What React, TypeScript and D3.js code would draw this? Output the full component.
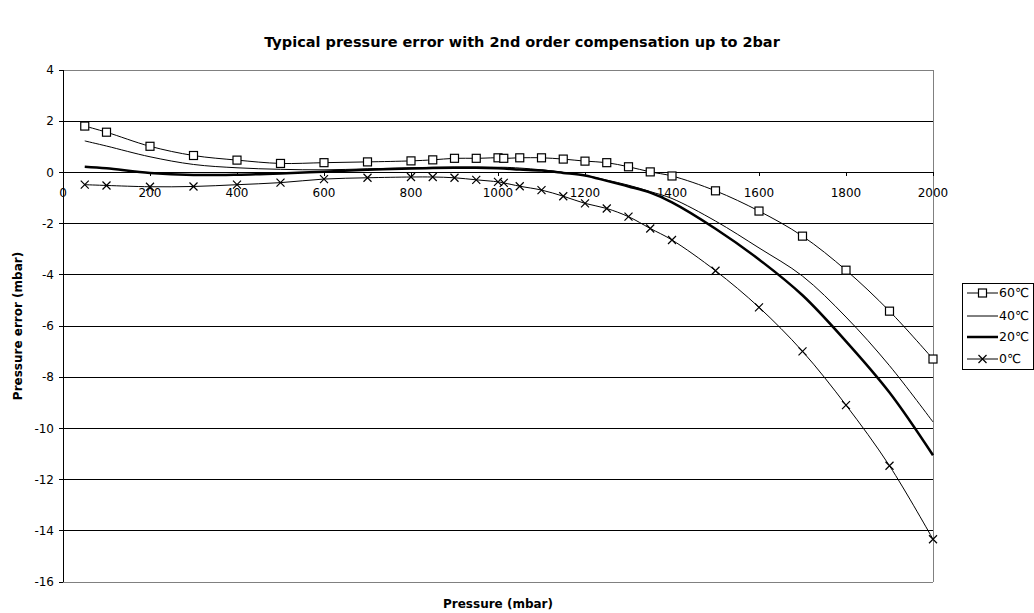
import React from 'react';
import * as d3 from 'd3';

// Pressure points (mbar) and typical error (mbar) per temperature
const pressure = [50, 100, 200, 300, 400, 500, 600, 700, 800, 850, 900, 950, 1000, 1013.25, 1050, 1100, 1150, 1200, 1250, 1300, 1350, 1400, 1500, 1600, 1700, 1800, 1900, 2000];
const err60 = [1.81, 1.57, 1.02, 0.66, 0.48, 0.35, 0.38, 0.41, 0.45, 0.49, 0.55, 0.55, 0.57, 0.55, 0.57, 0.57, 0.52, 0.44, 0.38, 0.22, 0.02, -0.14, -0.72, -1.51, -2.49, -3.82, -5.42, -7.29];
const err40 = [1.23, 1.03, 0.61, 0.31, 0.18, 0.12, 0.1, 0.14, 0.18, 0.2, 0.21, 0.21, 0.2, 0.2, 0.17, 0.1, 0.0, -0.12, -0.3, -0.5, -0.75, -1.02, -1.9, -2.95, -4.05, -5.65, -7.55, -9.75];
const err20 = [0.22, 0.16, -0.02, -0.1, -0.09, -0.04, 0.03, 0.1, 0.15, 0.17, 0.18, 0.18, 0.16, 0.15, 0.11, 0.07, -0.02, -0.12, -0.33, -0.55, -0.79, -1.17, -2.2, -3.4, -4.8, -6.6, -8.6, -11.05];
const err0 = [-0.48, -0.51, -0.56, -0.55, -0.48, -0.4, -0.26, -0.21, -0.18, -0.18, -0.21, -0.29, -0.37, -0.41, -0.54, -0.69, -0.93, -1.21, -1.41, -1.73, -2.19, -2.64, -3.84, -5.27, -6.99, -9.09, -11.46, -14.33];

const xTicks = [0, 200, 400, 600, 800, 1000, 1200, 1400, 1600, 1800, 2000];
const yTicks = [4, 2, 0, -2, -4, -6, -8, -10, -12, -14, -16];

const seriesNames = ['60\u2103', '40\u2103', '20\u2103', '0\u2103'];

const W = 1034;
const H = 613;
const plot = { left: 63, right: 933, top: 70, bottom: 582 };
const font = '"DejaVu Sans", Verdana, sans-serif';

type Marker = 'square' | 'cross' | 'none';

export default function App() {
  const x = d3.scaleLinear().domain([0, 2000]).range([plot.left, plot.right]);
  const y = d3.scaleLinear().domain([-16, 4]).range([plot.bottom, plot.top]);

  const series: { name: string; values: number[]; width: number; marker: Marker }[] = [
    { name: seriesNames[0], values: err60, width: 1, marker: 'square' },
    { name: seriesNames[1], values: err40, width: 1, marker: 'none' },
    { name: seriesNames[2], values: err20, width: 2.5, marker: 'none' },
    { name: seriesNames[3], values: err0, width: 1, marker: 'cross' },
  ];

  const line = d3
    .line<number>()
    .x((_, i) => x(pressure[i]))
    .y((d) => y(d))
    .curve(d3.curveCatmullRom.alpha(0.5));

  const drawMarker = (m: Marker, cx: number, cy: number, key: string | number) => {
    if (m === 'square') {
      return <rect key={key} x={cx - 4} y={cy - 4} width={8} height={8} fill="#fff" stroke="#000" strokeWidth={1.2} />;
    }
    if (m === 'cross') {
      return (
        <path key={key} d={`M${cx - 4},${cy - 4}L${cx + 4},${cy + 4}M${cx - 4},${cy + 4}L${cx + 4},${cy - 4}`} stroke="#000" strokeWidth={1.2} />
      );
    }
    return null;
  };

  const legend = { x: 962, y: 283, w: 71, h: 86 };
  const legendRows = [293, 316, 337, 359];

  return (
    <div style={{ position: 'absolute', left: 0, top: 0 }}>
      <svg width={W} height={H} style={{ display: 'block', background: '#fff' }} fontFamily={font}>
        <text x={522} y={47} textAnchor="middle" fontSize={14.5} fontWeight="bold">
          Typical pressure error with 2nd order compensation up to 2bar
        </text>

        {/* grid lines */}
        {yTicks.map((t) => (
          <line key={`g${t}`} x1={plot.left} x2={plot.right} y1={y(t)} y2={y(t)} stroke={t === 4 || t === -16 ? '#808080' : '#000'} strokeWidth={1} shapeRendering="crispEdges" />
        ))}
        <line x1={plot.right} x2={plot.right} y1={plot.top} y2={plot.bottom} stroke="#808080" shapeRendering="crispEdges" />

        {/* y axis */}
        <line x1={plot.left} x2={plot.left} y1={plot.top} y2={plot.bottom} stroke="#000" shapeRendering="crispEdges" />
        {yTicks.map((t) => (
          <g key={`yt${t}`}>
            <line x1={plot.left - 4} x2={plot.left} y1={y(t)} y2={y(t)} stroke="#000" shapeRendering="crispEdges" />
            <text x={plot.left - 9} y={y(t)} dy="0.35em" textAnchor="end" fontSize={12}>
              {t}
            </text>
          </g>
        ))}

        {/* x axis on the zero line */}
        <line x1={plot.left} x2={plot.right} y1={y(0)} y2={y(0)} stroke="#000" shapeRendering="crispEdges" />
        {xTicks.map((t) => (
          <g key={`xt${t}`}>
            <line x1={x(t)} x2={x(t)} y1={y(0)} y2={y(0) + 4} stroke="#000" shapeRendering="crispEdges" />
            <text x={x(t)} y={y(0) + 25} textAnchor="middle" fontSize={12}>
              {t}
            </text>
          </g>
        ))}

        {/* series */}
        {series.map((s) => (
          <g key={s.name}>
            <path d={line(s.values) || ''} fill="none" stroke="#000" strokeWidth={s.width} />
            {s.values.map((v, i) => drawMarker(s.marker, x(pressure[i]), y(v), i))}
          </g>
        ))}

        {/* axis titles */}
        <text x={(plot.left + plot.right) / 2} y={608} textAnchor="middle" fontSize={12} fontWeight="bold">
          Pressure (mbar)
        </text>
        <text transform={`translate(22,${(plot.top + plot.bottom) / 2}) rotate(-90)`} textAnchor="middle" fontSize={12} fontWeight="bold">
          Pressure error (mbar)
        </text>

        {/* legend */}
        <rect x={legend.x} y={legend.y} width={legend.w} height={legend.h} fill="#fff" stroke="#000" strokeWidth={1} shapeRendering="crispEdges" />
        {series.map((s, i) => (
          <g key={`lg${i}`}>
            <line x1={967} x2={998} y1={legendRows[i]} y2={legendRows[i]} stroke="#000" strokeWidth={s.width} />
            {drawMarker(s.marker, 982.5, legendRows[i], `m${i}`)}
            <text x={999} y={legendRows[i]} dy="0.35em" fontSize={12.5}>
              {s.name}
            </text>
          </g>
        ))}
      </svg>
    </div>
  );
}
